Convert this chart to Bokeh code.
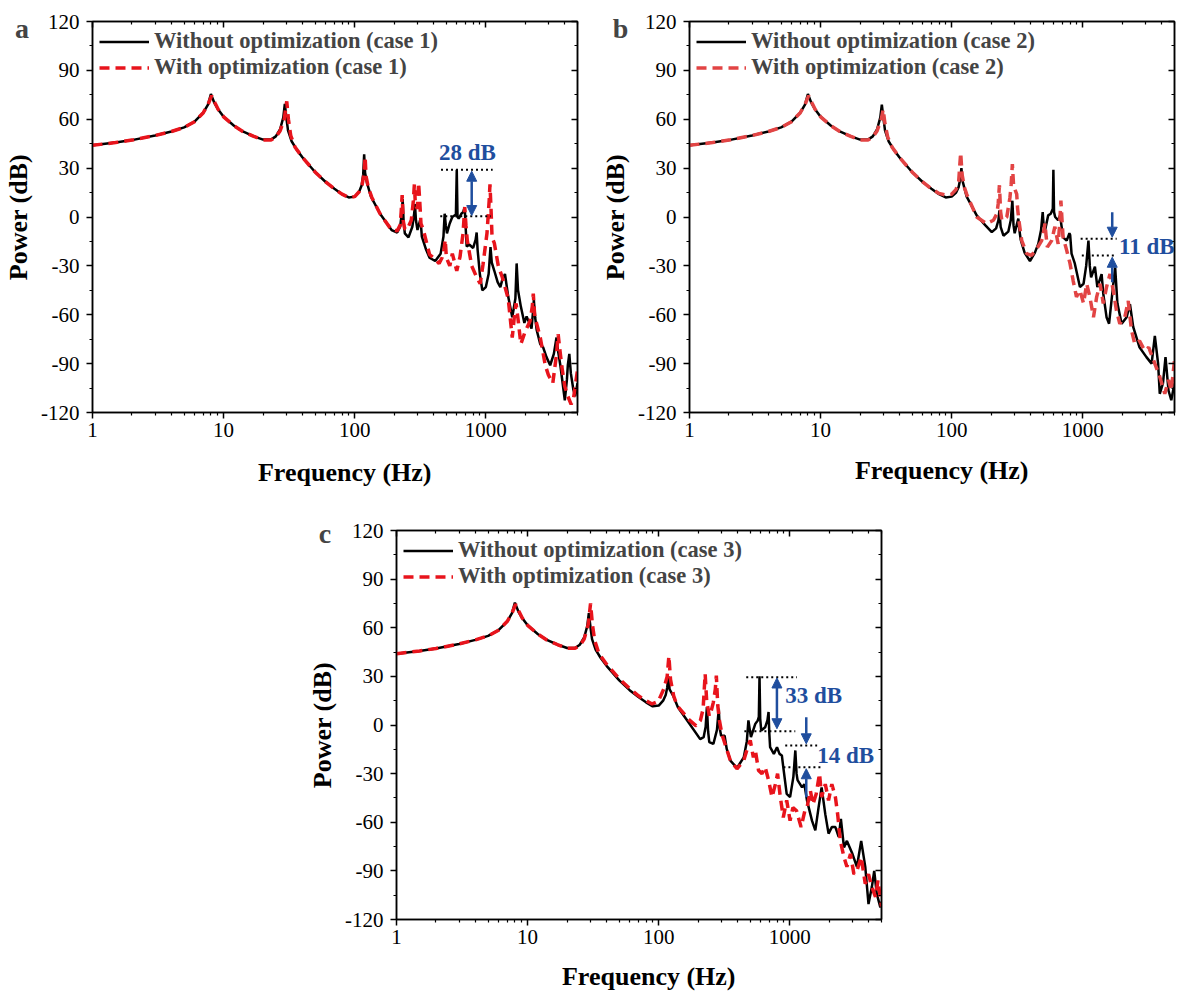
import math
from bokeh.plotting import figure
from bokeh.layouts import column, row
from bokeh.models import (LogAxis, LinearAxis, FixedTicker, PrintfTickFormatter, Arrow,
                          NormalHead, Label, Spacer, Legend, LegendItem, CustomJSTickFormatter)
from bokeh.embed import file_html
from bokeh.resources import INLINE

# ---------------- data ----------------
X_TICKS = [1, 10, 100, 1000]
Y_TICKS = [-120, -90, -60, -30, 0, 30, 60, 90, 120]

# panel a, case 1
FREQ_A_WITHOUT = [1, 1.5, 2, 3, 4, 5, 6, 7, 7.6, 8, 8.5, 9, 10, 12, 14, 17, 20, 23, 25, 27, 28.5, 29.3, 30.2, 31, 33, 36, 40, 50, 60, 70, 80, 90, 100, 108, 113, 116, 118, 120, 124, 133, 156, 191, 211, 222, 229, 232, 236, 241, 257, 275, 284, 288, 293, 301, 315, 320, 325, 350, 372, 411, 452, 475, 485, 495, 505, 530, 555, 591, 600, 608, 621, 650, 671, 690, 700, 714, 750, 800, 835, 851, 865, 900, 940, 1000, 1050, 1085, 1110, 1160, 1230, 1290, 1340, 1399, 1482, 1590, 1680, 1717, 1760, 1849, 1967, 2046, 2230, 2290, 2323, 2380, 2444, 2600, 2735, 2900, 3095, 3300, 3459, 3550, 3700, 4001, 4150, 4219, 4331, 4450, 4650, 4800, 5000]
POWER_A_WITHOUT = [44, 45.7, 47.2, 50, 52.5, 55, 58.5, 64, 69, 75.5, 70, 66.5, 61.5, 56, 52.5, 49.5, 47.5, 47.5, 49.5, 54, 61, 69.5, 60, 53, 46.5, 41.5, 36.5, 27.5, 21.5, 17.3, 14, 12, 12.5, 15.5, 19.5, 26, 38.5, 27, 21, 12.5, 2, -8, -9.5, -6, 3, 11, -3, -10, -12.5, -6, 2, 8, -2, -8, -2, -5, -12, -20, -25, -27, -22.5, -12, 2, -5, -10, -4, 0, 1.5, 29, 0, -1, 2, 3, 6, -5, -18, -17, -19, -14, -9.5, -20, -35, -45, -43, -35, -18.5, -28, -33, -40, -43, -38, -35, -49, -61.5, -50, -28.5, -45, -55, -65, -61, -68.5, -58, -51, -62, -69.5, -78, -80, -86, -91, -84, -74, -82, -91, -112.5, -100, -91, -84, -96, -106, -110, -102]
FREQ_A_WITH = [1, 1.5, 2, 3, 4, 5, 6, 7, 7.6, 8.1, 8.6, 9.1, 10, 12, 14, 17, 20, 23, 25, 27, 29, 30.3, 31.2, 32.5, 35, 40, 50, 60, 70, 80, 90, 100, 108, 114, 118, 120, 122, 127, 135, 156, 191, 211, 222, 226, 230, 234, 240, 250, 270, 280, 285, 290, 300, 307, 313, 320, 334, 372, 411, 440, 463, 480, 490, 500, 531, 555, 600, 635, 670, 690, 705, 722, 780, 851, 905, 952, 1020, 1060, 1075, 1095, 1115, 1160, 1244, 1335, 1400, 1480, 1590, 1650, 1700, 1750, 1849, 2000, 2170, 2260, 2300, 2360, 2600, 2840, 3000, 3240, 3450, 3560, 3650, 3800, 4000, 4220, 4470, 4650, 4800, 5000]
POWER_A_WITH = [44, 45.7, 47.2, 50, 52.5, 55, 58.5, 64, 69, 74.5, 70, 66, 61.5, 56, 52.5, 49.5, 47.3, 47.3, 49, 53, 60, 71, 60, 50, 43, 36.5, 27.5, 21.5, 17.3, 14, 12, 12.5, 15.5, 20, 27, 37, 25, 18, 12, 2, -8, -8.5, -5, 3, 13.5, -2, -7, -8, -2, 10, 20, 8, 5, 21, 10, -4, -8, -23, -26, -28.5, -25, -20, -14, -25, -30, -22.5, -33, -24.5, -10, 6, -5, -14.5, -30, -37, -41, -29, -10, 10, 20, 5, -12.5, -16, -30, -37, -43, -50, -74, -61, -53, -61, -78, -70, -64, -55, -47, -61, -74, -91, -97, -102, -85, -72, -80, -92, -104, -110, -115, -112, -104, -94]

# panel b, case 2
FREQ_B_WITHOUT = [1, 1.5, 2, 3, 4, 5, 6, 7, 7.6, 8, 8.5, 9, 10, 12, 14, 17, 20, 23, 25, 27, 28.5, 29.3, 30.2, 31, 33, 36, 40, 50, 60, 70, 80, 90, 100, 108, 113, 116, 118.5, 121, 130, 155, 180, 202, 218, 227, 231, 236, 248, 270, 282, 290, 296, 302, 315, 322, 328, 336, 360, 395, 430, 457, 480, 494, 502, 514, 544, 569, 590, 596, 603, 615, 648, 670, 707, 753, 790, 800, 820, 868, 950, 1012, 1060, 1103, 1130, 1156, 1236, 1290, 1390, 1431, 1516, 1585, 1686, 1764, 1834, 1976, 2157, 2287, 2421, 2705, 3055, 3346, 3540, 3749, 3860, 4085, 4270, 4500, 4726, 5000]
POWER_B_WITHOUT = [44, 45.7, 47.2, 50, 52.5, 55, 58.5, 64, 69, 75.5, 70, 66.5, 61.5, 56, 52.5, 49.5, 47.5, 47.5, 49.5, 54, 61, 69, 60, 53, 46.5, 41.5, 36.5, 27.5, 21.5, 17.3, 14, 12, 12.5, 15, 18.5, 23, 30, 22, 12.5, 1, -5, -9.3, -7, -2, 4, -6, -11.5, -9, -2, 10, -5, -10, -4, -1, -8, -14, -22, -27, -22, -16.5, -8, 3, -5, -8.5, 1, 2, 5, 29, 3, 0, -2, 1, -12.5, -14.5, -10, -11, -22.5, -28.5, -43, -41, -30, -14.5, -30, -37, -30.5, -43, -35, -47, -61.5, -65.5, -45, -31, -53, -65.5, -61.5, -53.5, -67.5, -80, -86, -90, -73, -90, -108.5, -102, -86, -106.5, -112.5, -102]
FREQ_B_WITH = [1, 1.5, 2, 3, 4, 5, 6, 7, 7.6, 8.1, 8.6, 9.1, 10, 12, 14, 17, 20, 23, 25, 27, 29, 30, 31, 32.5, 35, 40, 50, 60, 70, 80, 90, 100, 108, 113, 117, 120, 125, 130, 155, 184, 208, 221, 226, 231, 236, 241, 263, 278, 284, 290, 296, 300, 313, 318, 325, 342, 373, 406, 445, 485, 500, 514, 525, 536, 578, 612, 648, 665, 680, 695, 707, 753, 798, 843, 894, 950, 1012, 1070, 1131, 1205, 1275, 1353, 1431, 1516, 1610, 1706, 1805, 1914, 2090, 2217, 2350, 2490, 2705, 2962, 3180, 3540, 3860, 4215, 4500, 4726, 5000]
POWER_B_WITH = [44, 45.7, 47.2, 50, 52.5, 55, 58.5, 64, 69, 74.5, 70, 66, 61.5, 56, 52.5, 49.5, 47.3, 47.3, 49, 53, 60, 66, 57, 49, 43, 36.5, 27.5, 21.5, 17.3, 14.5, 13.5, 14, 17, 22, 39.5, 26, 18, 14, 0, -4, -2, 2, 8, 19.5, 3, -2, 0, 12, 20, 32.5, 20, 18, 14, 5, -2, -14.5, -22.5, -23.5, -19.5, -14.5, -10, -4, -12, -18.5, -14.5, -6, -16.5, -5, 10, -3, -12.5, -20.5, -28.5, -39, -49, -45, -53, -41, -49, -61.5, -49, -41, -53, -43, -35, -45, -57.5, -65.5, -61.5, -51.5, -69.5, -78, -76, -82, -80, -90, -98, -108.5, -100, -106.5, -88]

# panel c, case 3
FREQ_C_WITHOUT = [1, 1.5, 2, 3, 4, 5, 6, 7, 7.6, 8, 8.5, 9, 10, 12, 14, 17, 20, 23, 25, 27, 28.5, 29.3, 30.2, 31, 33, 36, 40, 50, 60, 70, 80, 90, 100, 108, 113, 116, 118.5, 121, 129, 140, 169, 207, 220, 228, 233, 238, 243, 261, 278, 287, 292, 299, 318, 330, 352, 395, 445, 470, 483, 495, 505, 545, 569, 580, 587, 594, 605, 648, 675, 688, 697, 707, 755, 798, 834, 869, 891, 946, 1004, 1064, 1101, 1125, 1145, 1239, 1290, 1351, 1475, 1564, 1655, 1747, 1863, 1973, 2090, 2225, 2357, 2450, 2587, 2724, 3000, 3247, 3500, 3760, 3980, 4220, 4400, 4600, 4900, 5000]
POWER_C_WITHOUT = [44, 45.7, 47.2, 50, 52.5, 55, 58.5, 64, 69, 75.5, 70, 66.5, 61.5, 56, 52.5, 49.5, 47.5, 47.5, 49.5, 54, 61, 69, 60, 53, 46.5, 41.5, 36.5, 27.5, 21.5, 17.3, 14, 11.5, 12, 15, 18.5, 23, 30, 22, 18, 11, 1.5, -8.7, -7.5, -1, 11, -4, -10.5, -11.7, -3, 10, -2, -6.6, -6.6, -14.8, -22, -26.5, -20, -10, 2.8, -3, -7.5, 0.7, 2.8, 5, 30, 4, -3.4, -1.4, 3, 8, -5, -13.7, -17.8, -13.7, -17.8, -18.8, -26, -42.5, -44.5, -32, -15.7, -30, -34, -38.5, -36.5, -46.5, -59, -65, -51, -38.5, -55, -67, -63, -63, -69, -58, -75.5, -71.5, -79.5, -87.5, -71.5, -87.5, -110.5, -100, -90, -104, -112.5, -109]
FREQ_C_WITH = [1, 1.5, 2, 3, 4, 5, 6, 7, 7.6, 8.1, 8.6, 9.1, 10, 12, 14, 17, 20, 23, 25, 27, 29, 30.2, 31.2, 32.5, 35, 40, 50, 60, 70, 80, 89, 99, 109, 116, 119.5, 123, 130, 138, 169, 193, 208, 218, 226, 232, 243, 250, 261, 270, 275, 282, 290, 303, 330, 352, 395, 445, 470, 499, 527, 545, 577, 613, 648, 688, 731, 776, 806, 846, 891, 946, 1004, 1055, 1126, 1218, 1300, 1351, 1434, 1500, 1587, 1684, 1747, 1863, 1973, 2090, 2225, 2315, 2425, 2587, 2724, 2900, 3080, 3247, 3500, 3760, 3980, 4220, 4500, 4700, 5000]
POWER_C_WITH = [44, 45.7, 47.2, 50, 52.5, 55, 58.5, 64, 69, 74.5, 70, 66, 61.5, 56, 52.5, 49.5, 47.3, 47.3, 49, 53, 62, 75, 62, 52, 44, 37.5, 28.5, 22.5, 18, 15, 13, 14.5, 22, 30, 42.5, 28, 18, 12, 3.5, -0.5, 2.8, 10, 31.5, 15, 5.5, 8, 14, 22, 30.5, 12, 3, -5.5, -15, -22, -27, -22, -15.5, -9.5, -20, -15.5, -28, -30, -26, -34, -44.5, -36.5, -30, -44.5, -57, -46.5, -59, -51, -53, -63, -53, -51, -40.5, -49, -42.5, -30, -44.5, -36.5, -46.5, -36.5, -44.5, -55, -71.5, -81.5, -87.5, -79.5, -92, -90, -81.5, -98, -92, -100, -106, -96, -112]

# annotations: dotted level lines (x0, x1, y), arrows (x, y_from, y_to, double), texts (x, y, text)
DOTS_A = [(455, 1127, 29), (449, 1094, 0.5)]
ARROWS_A = [(780, 0.9, 28.1, True)]
TEXTS_A = [(439.5, 39.3, "28 dB")]
DOTS_B = [(962, 1811, -13.4), (982, 1770, -23.6)]
ARROWS_B = [(1675, 2.9, -12.4, False), (1675, -40, -24.7, False)]
TEXTS_B = [(1884, -18.1, "11 dB")]
DOTS_C = [(465, 1133, 29.5), (450, 1100, -3.8), (922, 1615, -12.6), (893, 1791, -26)]
ARROWS_C = [(797, -2.3, 29, True), (1334, 4.8, -11.6, False), (1334, -44.5, -27, False)]
TEXTS_C = [(922, 18.3, "33 dB"), (1618, -18.8, "14 dB")]

# ---------------- styling ----------------
FONT = "Liberation Serif"
BLUE = "#1f4e9e"
X_MINOR = [m * d for d in X_TICKS for m in range(2, 10)]
Y_MINOR = [t + 15 for t in Y_TICKS[:-1]]
FW = 485
NBSP = "\u00a0"


def mirror_axis(cls, ticks, minor):
    return cls(ticker=FixedTicker(ticks=ticks, minor_ticks=minor),
               formatter=CustomJSTickFormatter(code="return ''"),
               major_label_text_font_size="2px", major_label_standoff=0,
               major_tick_in=6, major_tick_out=0, minor_tick_in=3, minor_tick_out=0,
               axis_line_width=1.5, major_tick_line_width=1.5, minor_tick_line_width=1.2)


def make_panel(case, fw, pw, fo, po, red, dots, arrows, texts,
               bl, br, bt, bb, fh, xlabel_standoff):
    p = figure(x_axis_type="log", x_range=(1, 5000), y_range=(-120, 120),
               frame_width=FW, frame_height=fh,
               min_border_left=bl, min_border_right=br,
               min_border_top=bt, min_border_bottom=bb,
               output_backend="svg", toolbar_location=None)
    p.xgrid.visible = False
    p.ygrid.visible = False
    p.outline_line_color = "black"
    p.outline_line_width = 1.5
    p.background_fill_color = "white"
    p.border_fill_color = "white"

    xa = p.xaxis[0]
    ya = p.yaxis[0]
    xa.ticker = FixedTicker(ticks=X_TICKS, minor_ticks=X_MINOR)
    xa.formatter = PrintfTickFormatter(format="%d")
    ya.ticker = FixedTicker(ticks=Y_TICKS, minor_ticks=Y_MINOR)
    ya.formatter = PrintfTickFormatter(format="%d")
    for ax in (xa, ya):
        ax.axis_line_width = 1.5
        ax.major_tick_line_width = 1.5
        ax.minor_tick_line_width = 1.2
        ax.major_tick_out = 6
        ax.major_tick_in = 0
        ax.minor_tick_out = 3
        ax.minor_tick_in = 0
        ax.major_label_text_font = FONT
        ax.major_label_text_font_size = "21px"
        ax.major_label_text_color = "black"
        ax.axis_label_text_font = FONT
        ax.axis_label_text_font_style = "bold"
        ax.axis_label_text_font_size = "26px"
        ax.axis_label_text_color = "black"
    xa.major_label_standoff = 4
    ya.major_label_standoff = 7
    # leading no-break spaces nudge the centred title right, as in the reference
    xa.axis_label = NBSP * 3 + "Frequency (Hz)"
    ya.axis_label = "Power (dB)"
    xa.axis_label_standoff = xlabel_standoff
    ya.axis_label_standoff = 5

    p.add_layout(mirror_axis(LogAxis, X_TICKS, X_MINOR), "above")
    p.add_layout(mirror_axis(LinearAxis, Y_TICKS, Y_MINOR), "right")

    r0 = p.line(fw, pw, line_color="black", line_width=2.5)
    r1 = p.line(fo, po, line_color=red, line_width=3.5, line_dash="10 6")

    for x0, x1, y in dots:
        p.line([x0, x1], [y, y], line_color="black", line_width=2, line_dash="2 3")
    for x, y0, y1, dbl in arrows:
        arr = Arrow(x_start=x, y_start=y0, x_end=x, y_end=y1,
                    end=NormalHead(size=10, fill_color=BLUE, line_color=BLUE),
                    line_color=BLUE, line_width=2.5)
        if dbl:
            arr.start = NormalHead(size=10, fill_color=BLUE, line_color=BLUE)
        p.add_layout(arr)
    for x, y, t in texts:
        p.add_layout(Label(x=x, y=y, text=t, text_font=FONT, text_font_style="bold",
                           text_font_size="23px", text_color=BLUE,
                           text_align="left", text_baseline="middle"))

    legend = Legend(items=[
        LegendItem(label=f"Without optimization (case {case})", renderers=[r0]),
        LegendItem(label=f"With optimization (case {case})", renderers=[r1])],
        location="top_left", margin=0, padding=7, spacing=0,
        glyph_width=50, glyph_height=25, label_height=25, label_standoff=5,
        label_text_font=FONT, label_text_font_style="bold", label_text_font_size="22.5px",
        border_line_alpha=0, background_fill_alpha=0)
    p.add_layout(legend)
    return p


def letter(p, text, x, y, side):
    p.add_layout(Label(x=x, y=y, x_units="screen", y_units="screen", text=text,
                       text_font=FONT, text_font_style="bold", text_font_size="28px",
                       text_align="center", text_baseline="alphabetic"), side)


pa = make_panel(1, FREQ_A_WITHOUT, POWER_A_WITHOUT, FREQ_A_WITH, POWER_A_WITH, "#e8141c",
                DOTS_A, ARROWS_A, TEXTS_A, bl=92, br=18, bt=21, bb=86, fh=391,
                xlabel_standoff=18)
pb = make_panel(2, FREQ_B_WITHOUT, POWER_B_WITHOUT, FREQ_B_WITH, POWER_B_WITH, "#e24444",
                DOTS_B, ARROWS_B, TEXTS_B, bl=94, br=2, bt=21, bb=80, fh=391,
                xlabel_standoff=16)
pc = make_panel(3, FREQ_C_WITHOUT, POWER_C_WITHOUT, FREQ_C_WITH, POWER_C_WITH, "#e8141c",
                DOTS_C, ARROWS_C, TEXTS_C, bl=96, br=18, bt=12, bb=74, fh=389,
                xlabel_standoff=15)

# panel letters placed in side panels (unclipped), relative to those panels
letter(pa, "a", -555.5, 384, "right")
letter(pb, "b", -69, 490, "below")
letter(pc, "c", -556.6, 386, "right")

layout = column(row(pa, pb), row(Spacer(width=300, height=10), pc))

open("out.html", "w").write(file_html(layout, INLINE))
